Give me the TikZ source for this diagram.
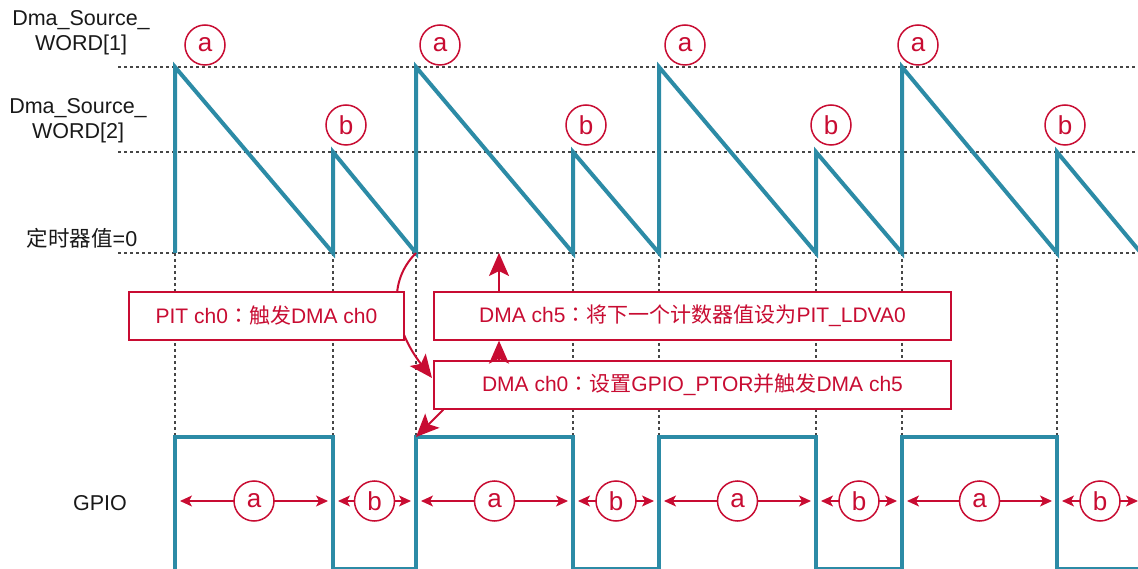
\documentclass[tikz,border=0pt]{standalone}
\usepackage{fontspec}
\setmainfont{Liberation Sans}
\newfontfamily\cjk{Noto Sans CJK SC}
\newfontfamily\cjkpunct{Noto Sans CJK TC}
\usetikzlibrary{arrows.meta}
\definecolor{sigc}{RGB}{44,139,166}
\definecolor{crim}{RGB}{200,12,50}
\definecolor{dotc}{RGB}{70,70,70}
\definecolor{txtc}{RGB}{25,25,25}
\newcommand{\fwcolon}{{\cjkpunct ：}}
\begin{document}
\begin{tikzpicture}[x=1pt,y=-1pt,
  sig/.style={sigc, line width=4pt},
  guide/.style={dotc, line width=1.1pt, dash pattern=on 3pt off 3pt},
  lbl/.style={font=\fontsize{21.5}{25}\selectfont, text=txtc, align=center, inner sep=0pt},
  evbox/.style={draw=crim, line width=1.3pt, fill=white, text=crim, font=\fontsize{21}{24}\selectfont, inner sep=0pt},
  tag/.style={circle, draw=crim, line width=1.5pt, fill=white, text=crim, minimum size=40pt, inner sep=0pt, font=\fontsize{26}{26}\selectfont},
  bigarr/.style={crim, line width=2pt, -{Stealth[length=23pt,width=20pt,inset=5pt]}},
  dimarr/.style={crim, line width=1.2pt, {Stealth[length=12pt,width=11pt,inset=3pt]}-{Stealth[length=12pt,width=11pt,inset=3pt]}},
]
\useasboundingbox (0,0) rectangle (1138,569);

% left labels
\node[lbl] (w1) at (81,33) {Dma\_Source\_\\WORD[1]};
\node[lbl] (w2) at (78,121) {Dma\_Source\_\\WORD[2]};
\node[lbl] (z0) at (82,238) {{\cjk 定时器值}=0};
\node[lbl] (gp) at (100,503) {GPIO};

% guide lines
\foreach \yy in {67,152,253} \draw[guide] (118,\yy) -- (1138,\yy);
\foreach \xx in {175,333,416,573,659,816,902,1057} \draw[guide] (\xx,253) -- (\xx,437);

% timer sawtooth
\draw[sig] (175,253) -- (175,67) -- (333,253) -- (333,152) -- (416,253)
  -- (416,67) -- (573,253) -- (573,152) -- (659,253)
  -- (659,67) -- (816,253) -- (816,152) -- (902,253)
  -- (902,67) -- (1057,253) -- (1057,152) -- (1146,259);

% GPIO waveform
\draw[sig] (175,580) -- (175,437) -- (333,437) -- (333,569) -- (416,569)
  -- (416,437) -- (573,437) -- (573,569) -- (659,569)
  -- (659,437) -- (816,437) -- (816,569) -- (902,569)
  -- (902,437) -- (1057,437) -- (1057,569) -- (1146,569);

% top tags
\foreach \xx in {205,440,685,918} \node[tag] at (\xx,45) {a};
\foreach \xx in {346,586,831,1065} \node[tag] at (\xx,125) {b};

% named anchor points
\coordinate (zero) at (416,253);
\coordinate (rise) at (416,437);
\coordinate (upx) at (499,253);

% curved arrow from zero point (drawn beneath the PIT box)
\draw[bigarr] (zero) .. controls (384,285) and (396,332) .. (432,378);

% event boxes
\node[evbox, minimum width=275pt, minimum height=48pt] (pit) at (266.5,316) {PIT ch0\fwcolon{\cjk 触发}DMA ch0};
\node[evbox, minimum width=517pt, minimum height=48pt] (ch5) at (692.5,316) {DMA ch5\fwcolon{\cjk 将下一个计数器值设为}PIT\_LDVA0};
\node[evbox, minimum width=517pt, minimum height=48pt] (ch0) at (692.5,385) {DMA ch0\fwcolon{\cjk 设置}GPIO\_PTOR{\cjk 并触发}DMA ch5};

% straight arrows
\draw[bigarr] (ch0.north -| upx) -- (ch5.south -| upx);
\draw[bigarr] (ch5.north -| upx) -- (upx);
\draw[bigarr] (ch0.south west) ++(10,0) coordinate (dl) (dl) -- (rise);

% GPIO interval markers
\foreach \xa/\xb/\ll in {175/333/a,333/416/b,416/573/a,573/659/b,659/816/a,816/902/b,902/1057/a,1057/1143/b}{
  \draw[dimarr] (\xa+5,501) -- (\xb-5,501);
  \node[tag] at ({(\xa+\xb)/2},501) {\ll};
}
\end{tikzpicture}
\end{document}
